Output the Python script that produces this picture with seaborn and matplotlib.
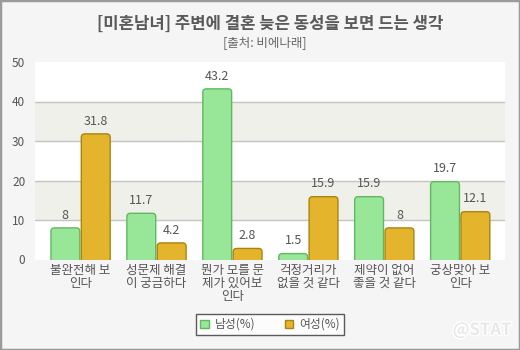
import matplotlib
matplotlib.use("Agg")
import matplotlib.pyplot as plt
import matplotlib.patheffects as pe
from matplotlib.patches import Rectangle, Patch, FancyBboxPatch
import seaborn as sns
import pandas as pd

categories = ["불완전해 보\n인다", "성문제 해결\n이 궁금하다", "뭔가 모를 문\n제가 있어보\n인다",
              "걱정거리가\n없을 것 같다", "제약이 없어\n좋을 것 같다", "궁상맞아 보\n인다"]
male = [8, 11.7, 43.2, 1.5, 15.9, 19.7]
female = [31.8, 4.2, 2.8, 15.9, 8, 12.1]
series_names = ["남성(%)", "여성(%)"]
yticks = [0, 10, 20, 30, 40, 50]
title = "[미혼남녀] 주변에 결혼 늦은 동성을 보면 드는 생각"
subtitle = "[출처: 비에나래]"

df = pd.DataFrame({
    "cat": categories * 2,
    "val": male + female,
    "series": [series_names[0]] * len(male) + [series_names[1]] * len(female),
})

sns.set_theme(style="white")
plt.rcParams["font.family"] = ["Noto Sans CJK KR", "DejaVu Sans"]

fig = plt.figure(figsize=(5.2, 3.5), dpi=100, facecolor="#f5f5f5")
ax = fig.add_axes([35 / 520, 1 - 259.5 / 350, 470 / 520, (259.5 - 62) / 350])
ax.set_facecolor("white")

colors = {series_names[0]: "#98e698", series_names[1]: "#e4b52c"}
edges = {series_names[0]: "#62b862", series_names[1]: "#a88510"}
sns.barplot(data=df, x="cat", y="val", hue="series", palette=colors, width=0.8,
            gap=0.05, ax=ax, legend=False, zorder=2, saturation=1)

n = len(categories)
ax.set_xlim(-0.6, 5.59)
ax.set_ylim(0, 50)

# aspect between y-units per pixel and x-units per pixel
xpp = (5.59 + 0.6) / 470
ypp = 50 / 197.5
aspect = ypp / xpp
r = 3.5 * xpp

for cont, s in zip(ax.containers, series_names):
    for p in cont.patches:
        x0, w, h = p.get_x(), p.get_width(), p.get_height()
        p.set_visible(False)
        fb = FancyBboxPatch((x0, -3), w, h + 3,
                            boxstyle=f"round,pad=0,rounding_size={r}",
                            mutation_aspect=aspect, facecolor=colors[s],
                            edgecolor=edges[s], lw=1, zorder=2)
        ax.add_patch(fb)
        ax.text(x0 + w / 2, h + 1.6, f"{h:g}", ha="center", va="bottom",
                fontsize=9, color="#555555", zorder=3)

# alternating bands and grid
for lo, hi in [(10, 20), (30, 40)]:
    ax.axhspan(lo, hi, color="#f0f0ea", zorder=0, lw=0)
for y in [10, 20, 30, 40]:
    ax.axhline(y, color="#c4c4c0", lw=1, zorder=0.5)

ax.set_xlim(-0.6, 5.59)
ax.set_ylim(0, 50)
ax.set_yticks(yticks)
ax.set_yticklabels([str(t) for t in yticks], fontsize=8.5, color="#555555")
ax.tick_params(axis="y", length=0, pad=7)
ax.tick_params(axis="x", length=0, pad=3)
ax.set_xticks(range(n))
ax.set_xticklabels(categories, fontsize=9, color="#555555", linespacing=1.0, va="top")
ax.set_xlabel("")
ax.set_ylabel("")
for s in ax.spines.values():
    s.set_visible(False)

fig.text(270 / 520, 1 - 24 / 350, title, ha="center", va="center", fontsize=12,
         fontweight="bold", color="#5a5a5a")
fig.text(265 / 520, 1 - 43 / 350, subtitle, ha="center", va="center", fontsize=9,
         color="#666666")

handles = [Patch(facecolor=colors[s], edgecolor=edges[s], label=s) for s in series_names]
leg = fig.legend(handles=handles, loc="center", bbox_to_anchor=(270 / 520, 1 - 324.5 / 350),
                 ncol=2, frameon=True, fontsize=8.5, handlelength=0.7, handleheight=0.7,
                 handletextpad=0.5, columnspacing=2.5, borderpad=0.35, fancybox=False)
leg.get_frame().set_edgecolor("#333333")
leg.get_frame().set_linewidth(1)
leg.get_frame().set_facecolor("white")
for t in leg.get_texts():
    t.set_color("#555555")

fig.text(482 / 520, 1 - 330 / 350, "@STAT", ha="center", va="center", fontsize=12,
         fontweight="bold", color="#e8e8e8",
         path_effects=[pe.withStroke(linewidth=2, foreground="#ffffff")])

fig.add_artist(Rectangle((0, 0), 1, 1, transform=fig.transFigure, fill=False,
                         edgecolor="#9a9a9a", lw=2.5))

fig.savefig("out.png", dpi=100, facecolor=fig.get_facecolor())
